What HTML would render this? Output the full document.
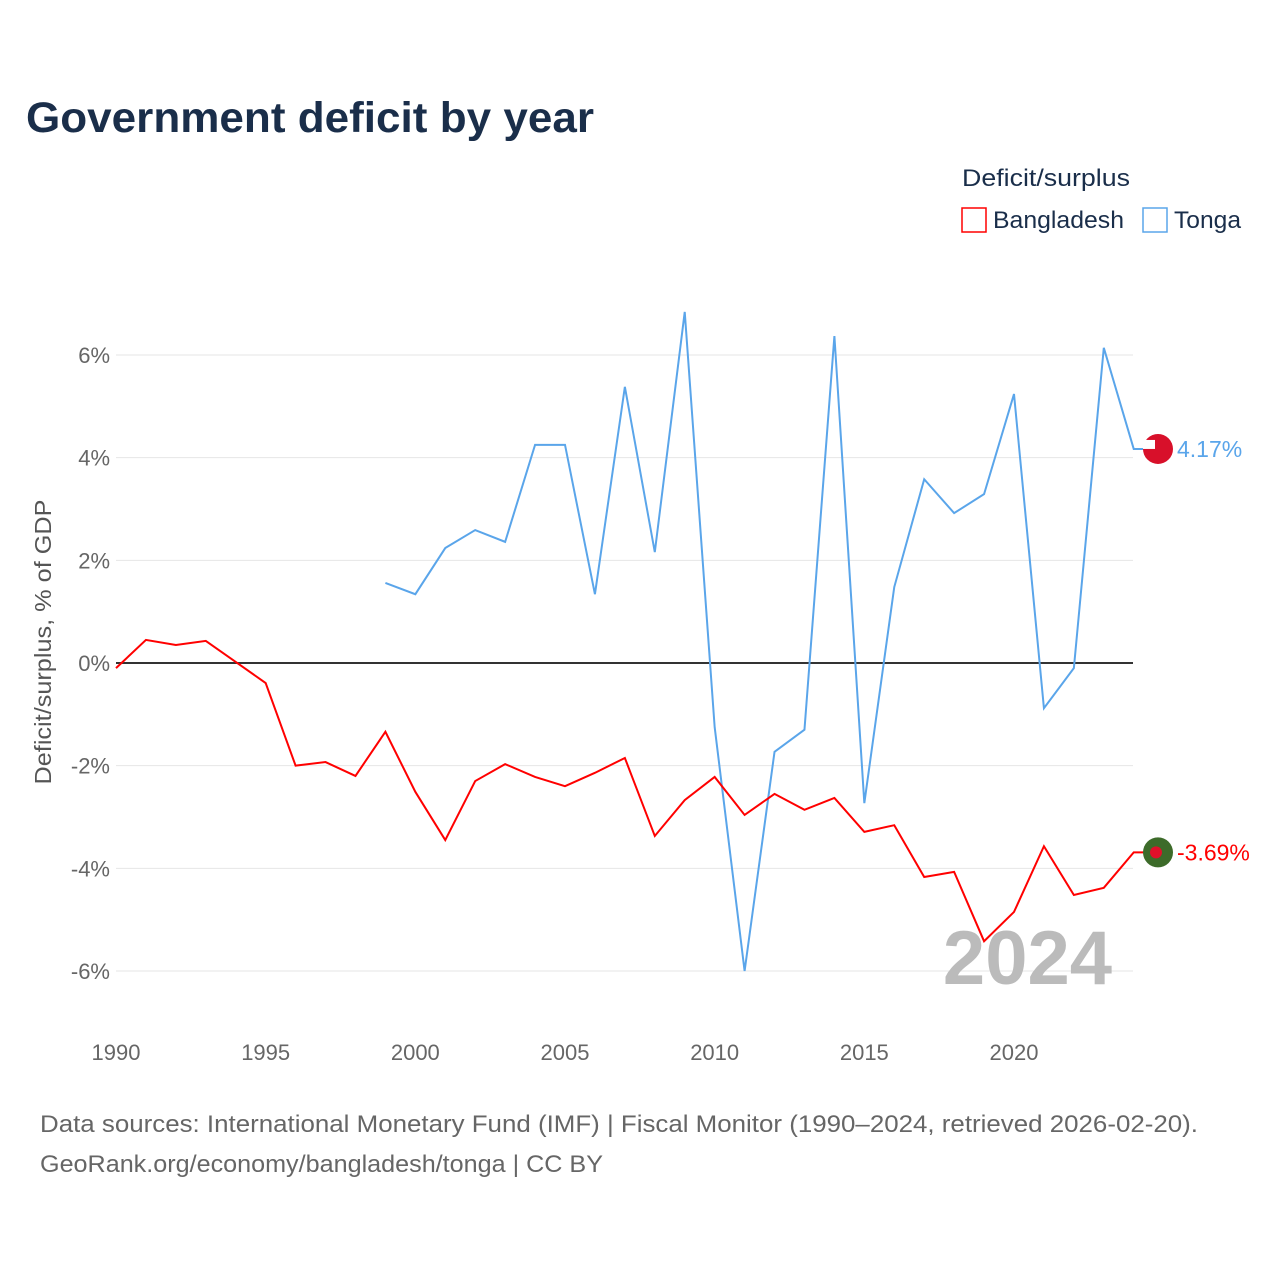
<!DOCTYPE html>
<html><head><meta charset="utf-8"><style>
body{margin:0;background:#fff;font-family:"Liberation Sans",sans-serif}
svg text{font-family:"Liberation Sans",sans-serif}
</style></head><body>
<svg width="1280" height="1280" viewBox="0 0 1280 1280">
<text x="26" y="132" font-size="43" font-weight="bold" fill="#1a2e4a" textLength="568" lengthAdjust="spacingAndGlyphs">Government deficit by year</text>
<text x="962" y="186" font-size="24" fill="#1a2e4a" textLength="168" lengthAdjust="spacingAndGlyphs">Deficit/surplus</text>
<g><rect x="962" y="208" width="24" height="24" fill="none" stroke="#f00" stroke-width="1.5"/><text x="993" y="228" font-size="24" fill="#1a2e4a" textLength="131" lengthAdjust="spacingAndGlyphs">Bangladesh</text></g>
<g><rect x="1143" y="208" width="24" height="24" fill="none" stroke="#5aa5ea" stroke-width="1.5"/><text x="1174" y="228" font-size="24" fill="#1a2e4a" textLength="67" lengthAdjust="spacingAndGlyphs">Tonga</text></g>
<g id="grid"></g>
<text x="1112" y="984" font-size="76" font-weight="bold" fill="#bbb" text-anchor="end">2024</text>
<g id="plot"></g>
<text transform="translate(51,642) rotate(-90)" font-size="23" fill="#555" text-anchor="middle" textLength="285" lengthAdjust="spacingAndGlyphs">Deficit/surplus, % of GDP</text>
<text x="40" y="1132" font-size="24" fill="#666" textLength="1158" lengthAdjust="spacingAndGlyphs">Data sources: International Monetary Fund (IMF) | Fiscal Monitor (1990–2024, retrieved 2026-02-20).</text>
<text x="40" y="1172" font-size="24" fill="#666" textLength="563" lengthAdjust="spacingAndGlyphs">GeoRank.org/economy/bangladesh/tonga | CC BY</text>
</svg>
<script>
const yearsB=[1990,1991,1992,1993,1994,1995,1996,1997,1998,1999,2000,2001,2002,2003,2004,2005,2006,2007,2008,2009,2010,2011,2012,2013,2014,2015,2016,2017,2018,2019,2020,2021,2022,2023,2024];
const bangladesh=[-0.1,0.45,0.35,0.43,0.02,-0.39,-2.0,-1.93,-2.2,-1.34,-2.51,-3.45,-2.3,-1.97,-2.22,-2.4,-2.14,-1.85,-3.37,-2.67,-2.22,-2.96,-2.55,-2.86,-2.63,-3.29,-3.16,-4.17,-4.07,-5.42,-4.85,-3.57,-4.52,-4.38,-3.69];
const yearsT=[1999,2000,2001,2002,2003,2004,2005,2006,2007,2008,2009,2010,2011,2012,2013,2014,2015,2016,2017,2018,2019,2020,2021,2022,2023,2024];
const tonga=[1.56,1.34,2.24,2.59,2.36,4.25,4.25,1.34,5.38,2.16,6.84,-1.25,-6.0,-1.73,-1.3,6.37,-2.73,1.48,3.58,2.92,3.29,5.24,-0.88,-0.1,6.14,4.17];
const yTicks=[-6,-4,-2,0,2,4,6];
const xTicks=[1990,1995,2000,2005,2010,2015,2020];
const NS="http://www.w3.org/2000/svg";
const x=v=>116+(v-1990)*(1014-116)/30;
const y=v=>663-v*51.33;
function mk(t,a,p){const e=document.createElementNS(NS,t);for(const k in a)e.setAttribute(k,a[k]);p.appendChild(e);return e;}
const g=document.getElementById('grid'),p=document.getElementById('plot');
yTicks.forEach(v=>{
 const l=mk('line',{x1:116,x2:1133,y1:y(v),y2:y(v),stroke:v===0?'#333':'#e6e6e6','stroke-width':v===0?2:1},g);
 
 
 const t=mk('text',{x:110,y:y(v)+8,'font-size':22,fill:'#666','text-anchor':'end'},g);
 t.textContent=v+'%';
 
 
});
xTicks.forEach(v=>{
 const t=mk('text',{x:x(v),y:1060,'font-size':22,fill:'#666','text-anchor':'middle'},g);
 t.textContent=v;
 
 
});
function line(xs,vs,c,name){
 const d=xs.map((yr,i)=>(i?'L':'M')+x(yr)+','+y(vs[i])).join('')+'L'+(x(2024)+12)+','+y(vs[vs.length-1]);
 const e=mk('path',{d:d,fill:'none',stroke:c,'stroke-width':2},p);
 
 
}
line(yearsT,tonga,'#5aa5ea','tonga-line');
line(yearsB,bangladesh,'#f00','bangladesh-line');
function end(v,c,fl,name){
 const cy=y(v),cx=1158;
 const gg=mk('g',{},p);
 
 
 if(fl==='bd'){mk('circle',{cx:cx,cy:cy,r:15,fill:'#3d6b2a'},gg);mk('circle',{cx:cx-2,cy:cy,r:6,fill:'#e0102a'},gg);}
 else{mk('circle',{cx:cx,cy:cy,r:15,fill:'#d8102a'},gg);mk('rect',{x:cx-15,y:cy-9,width:12,height:9,fill:'#fff'},gg);}
 const t=mk('text',{x:1177,y:cy+8,'font-size':23,fill:c},gg);
 t.textContent=v.toFixed(2)+'%';
}
end(tonga[tonga.length-1],'#5aa5ea','to','tonga-end-label');
end(bangladesh[bangladesh.length-1],'#f00','bd','bangladesh-end-label');
</script>
</body></html>
